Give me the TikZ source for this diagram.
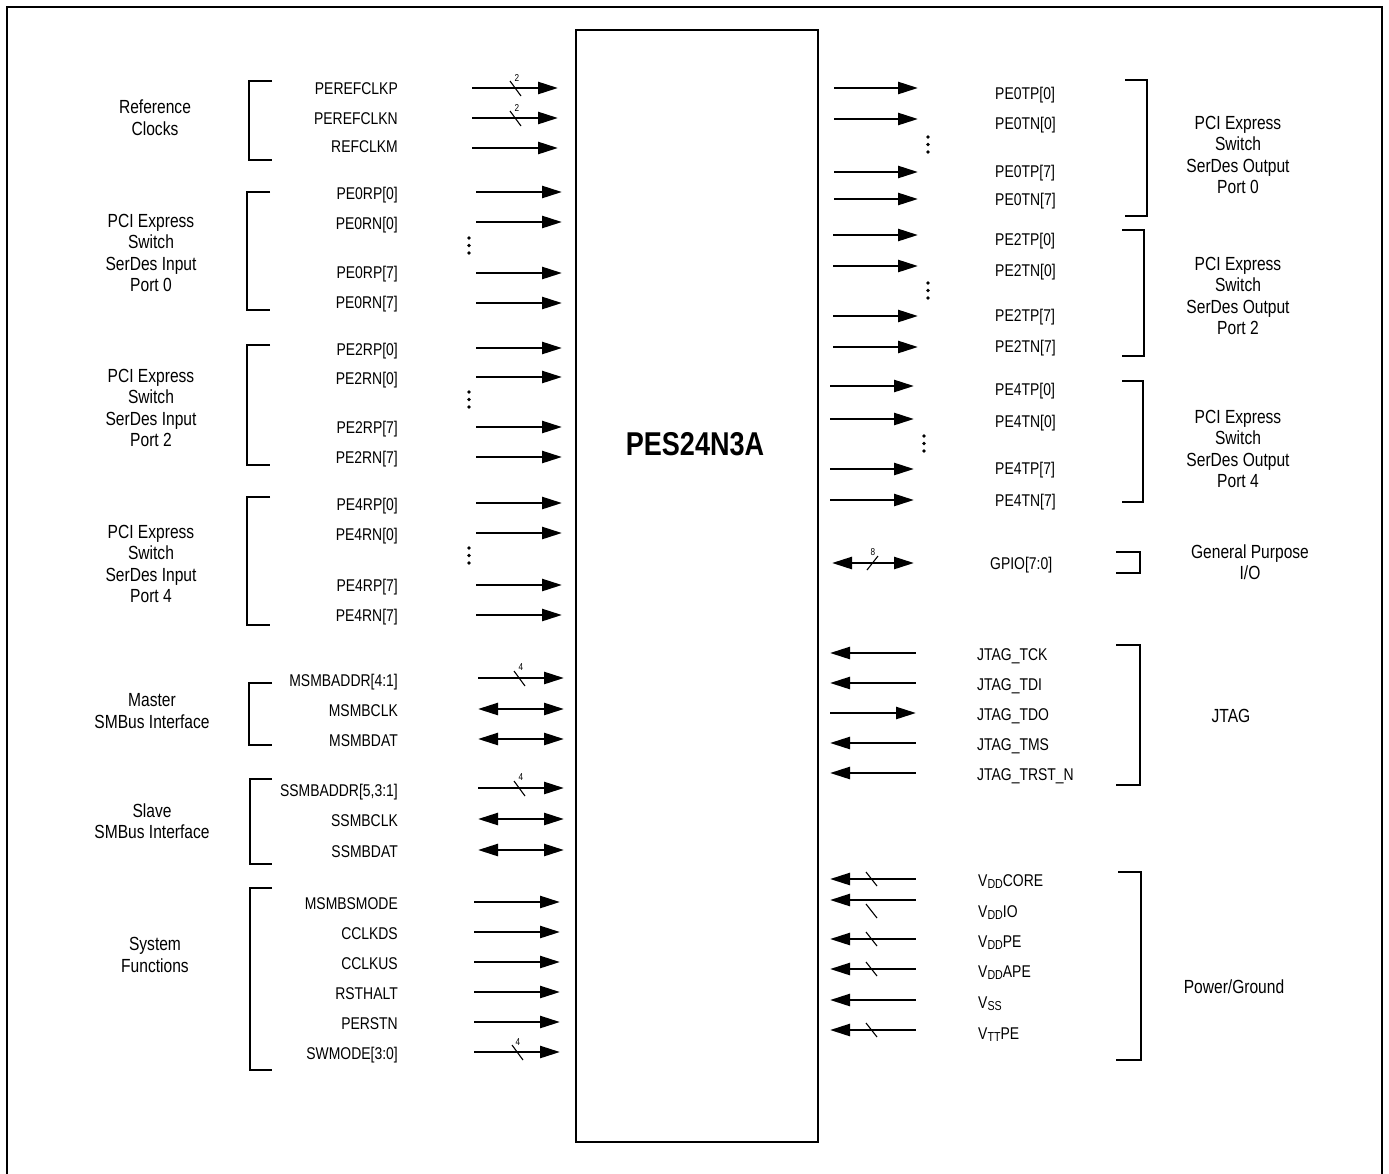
\documentclass[tikz,border=0pt]{standalone}
\usepackage{fontspec}
\setmainfont{Liberation Sans}[FakeStretch=0.82]
\usetikzlibrary{arrows.meta}
\newcommand{\vsub}[1]{\raisebox{-0.3ex}{\fontsize{13}{13}\selectfont #1}}
\begin{document}
\begin{tikzpicture}[x=1pt,y=-1pt,
  sigfont/.style={font=\fontsize{17}{20}\selectfont},
  grp/.style={font=\fontsize{19}{21.6}\selectfont, align=center, inner sep=0pt},
  lsig/.style={sigfont, anchor=base east, inner sep=0pt},
  rsig/.style={sigfont, anchor=base west, inner sep=0pt},
  arr/.style={line width=2.5pt, -{Triangle[length=20pt,width=12pt]}},
  larr/.style={line width=2.5pt, {Triangle[length=20pt,width=12pt]}-},
  barr/.style={line width=2.5pt, {Triangle[length=20pt,width=12pt]}-{Triangle[length=20pt,width=12pt]}},
  brk/.style={line width=2pt},
  tick/.style={line width=1.1pt},
  busnum/.style={font=\fontsize{10}{10}\selectfont, inner sep=0pt},
  vdot/.style={fill=black}
]
\useasboundingbox (0,0) rectangle (1389,1173);
% outer frame
\draw[line width=2.5pt] (7,1175) -- (7,7) -- (1382,7) -- (1382,1175);
% chip
\node[draw, line width=2.8pt, minimum width=242pt, minimum height=1112pt, inner sep=0pt] (chip) at (697,586) {};
\node[font=\bfseries\fontsize{33}{36}\selectfont, inner sep=0pt] (title) at (695,444) {PES24N3A};

% left signals
\foreach \nm/\ty/\ay/\xa/\xb/\st/\txt in {
  a/88/88/472/558/arr/PEREFCLKP,
  b/118/118/472/558/arr/PEREFCLKN,
  c/146/148/472/558/arr/REFCLKM,
  d/193/192/476/562/arr/PE0RP[0],
  e/223/222/476/562/arr/PE0RN[0],
  f/272/273/476/562/arr/PE0RP[7],
  g/302/303/476/562/arr/PE0RN[7],
  h/349/348/476/562/arr/PE2RP[0],
  i/378/377/476/562/arr/PE2RN[0],
  j/427/427/476/562/arr/PE2RP[7],
  k/457/457/476/562/arr/PE2RN[7],
  l/504/503/476/562/arr/PE4RP[0],
  m/534/533/476/562/arr/PE4RN[0],
  n/585/585/476/562/arr/PE4RP[7],
  o/615/615/476/562/arr/PE4RN[7],
  p/680/678/478/564/arr/MSMBADDR[4:1],
  q/710/709/478/564/barr/MSMBCLK,
  r/740/739/478/564/barr/MSMBDAT,
  s/790/788/478/564/arr/{SSMBADDR[5,3:1]},
  t/820/819/478/564/barr/SSMBCLK,
  u/851/850/478/564/barr/SSMBDAT,
  v/903/902/474/560/arr/MSMBSMODE,
  w/933/932/474/560/arr/CCLKDS,
  x/963/962/474/560/arr/CCLKUS,
  y/993/992/474/560/arr/RSTHALT,
  z/1023/1022/474/560/arr/PERSTN,
  aa/1053/1052/474/560/arr/SWMODE[3:0]} {
  \node[lsig] (l\nm) at (398,\ty+6) {\txt};
  \coordinate (la\nm) at (\xa,\ay);
  \coordinate (lb\nm) at (\xb,\ay);
  \draw[\st] (la\nm) -- (lb\nm);
}

% right signals
\foreach \nm/\ty/\ay/\xa/\xb/\st/\xt/\txt in {
  a/93/88/834/918/arr/995/PE0TP[0],
  b/123/119/834/918/arr/995/PE0TN[0],
  c/171/172/834/918/arr/995/PE0TP[7],
  d/199/199/834/918/arr/995/PE0TN[7],
  e/239/235/833/918/arr/995/PE2TP[0],
  f/270/266/833/918/arr/995/PE2TN[0],
  g/315/316/833/918/arr/995/PE2TP[7],
  h/346/347/833/918/arr/995/PE2TN[7],
  i/389/386/830/914/arr/995/PE4TP[0],
  j/421/419/830/914/arr/995/PE4TN[0],
  k/468/469/830/914/arr/995/PE4TP[7],
  l/500/500/830/914/arr/995/PE4TN[7],
  m/563/563/832/914/barr/990/GPIO[7:0],
  n/654/653/830/916/larr/977/JTAG\_TCK,
  o/684/683/830/916/larr/977/JTAG\_TDI,
  p/714/713/830/916/arr/977/JTAG\_TDO,
  q/744/743/830/916/larr/977/JTAG\_TMS,
  r/774/773/830/916/larr/977/JTAG\_TRST\_N,
  s/880/879/830/916/larr/978/{V\vsub{DD}CORE},
  t/911/900/830/916/larr/978/{V\vsub{DD}IO},
  u/941/939/830/916/larr/978/{V\vsub{DD}PE},
  v/971/969/830/916/larr/978/{V\vsub{DD}APE},
  w/1002/1000/830/916/larr/978/{V\vsub{SS}},
  x/1033/1030/830/916/larr/978/{V\vsub{TT}PE}} {
  \node[rsig] (r\nm) at (\xt,\ty+6) {\txt};
  \coordinate (ra\nm) at (\xa,\ay);
  \coordinate (rb\nm) at (\xb,\ay);
  \draw[\st] (ra\nm) -- (rb\nm);
}

% bus slashes and widths
\draw[tick] (510,81) -- (521,96);   \node[busnum] (n1) at (517,78) {2};
\draw[tick] (510,111) -- (521,126); \node[busnum] (n2) at (517,108) {2};
\draw[tick] (514,671) -- (525,686); \node[busnum] (n3) at (521,667) {4};
\draw[tick] (514,781) -- (525,796); \node[busnum] (n4) at (521,777) {4};
\draw[tick] (512,1045) -- (523,1060); \node[busnum] (n5) at (518,1042) {4};
\draw[tick] (867,570) -- (878,556); \node[busnum] (n6) at (873,552) {8};
\draw[tick] (866,872) -- (877,886);
\draw[tick] (866,904) -- (877,918);
\draw[tick] (866,932) -- (877,946);
\draw[tick] (866,962) -- (877,976);
\draw[tick] (866,1023) -- (877,1037);

% ellipsis dots
\foreach \x/\y in {469/238, 469/392, 469/548, 928/137, 928/283, 924/436} {
  \fill[vdot] (\x,\y) circle (1.9pt);
  \fill[vdot] (\x,\y+7.5) circle (1.9pt);
  \fill[vdot] (\x,\y+15) circle (1.9pt);
}

% left brackets
\draw[brk] (272,81) -- (249,81) -- (249,160) -- (272,160);
\draw[brk] (270,192) -- (247,192) -- (247,310) -- (270,310);
\draw[brk] (270,345) -- (247,345) -- (247,465) -- (270,465);
\draw[brk] (270,497) -- (247,497) -- (247,625) -- (270,625);
\draw[brk] (272,683) -- (249,683) -- (249,745) -- (272,745);
\draw[brk] (272,779) -- (250,779) -- (250,864) -- (272,864);
\draw[brk] (272,888) -- (250,888) -- (250,1070) -- (272,1070);
% right brackets
\draw[brk] (1125,80) -- (1147,80) -- (1147,216) -- (1125,216);
\draw[brk] (1122,230) -- (1144,230) -- (1144,356) -- (1122,356);
\draw[brk] (1122,381) -- (1143,381) -- (1143,502) -- (1122,502);
\draw[brk] (1116,552) -- (1140,552) -- (1140,573) -- (1116,573);
\draw[brk] (1116,645) -- (1140,645) -- (1140,785) -- (1116,785);
\draw[line width=1.5pt] (1118,872) -- (1141,872) -- (1141,1060) -- (1116,1060);

% group labels
\node[grp] (gref) at (155,118) {Reference\\Clocks};
\node[grp] (gin0) at (151,253) {PCI Express\\Switch\\SerDes Input\\Port 0};
\node[grp] (gin2) at (151,408) {PCI Express\\Switch\\SerDes Input\\Port 2};
\node[grp] (gin4) at (151,564) {PCI Express\\Switch\\SerDes Input\\Port 4};
\node[grp] (gmst) at (152,711) {Master\\SMBus Interface};
\node[grp] (gslv) at (152,821) {Slave\\SMBus Interface};
\node[grp] (gsys) at (155,955) {System\\Functions};
\node[grp] (gout0) at (1238,155) {PCI Express\\Switch\\SerDes Output\\Port 0};
\node[grp] (gout2) at (1238,296) {PCI Express\\Switch\\SerDes Output\\Port 2};
\node[grp] (gout4) at (1238,449) {PCI Express\\Switch\\SerDes Output\\Port 4};
\node[grp] (ggpio) at (1250,562) {General Purpose\\I/O};
\node[grp] (gjtag) at (1231,716) {JTAG};
\node[grp] (gpwr) at (1234,987) {Power/Ground};
\end{tikzpicture}
\end{document}
